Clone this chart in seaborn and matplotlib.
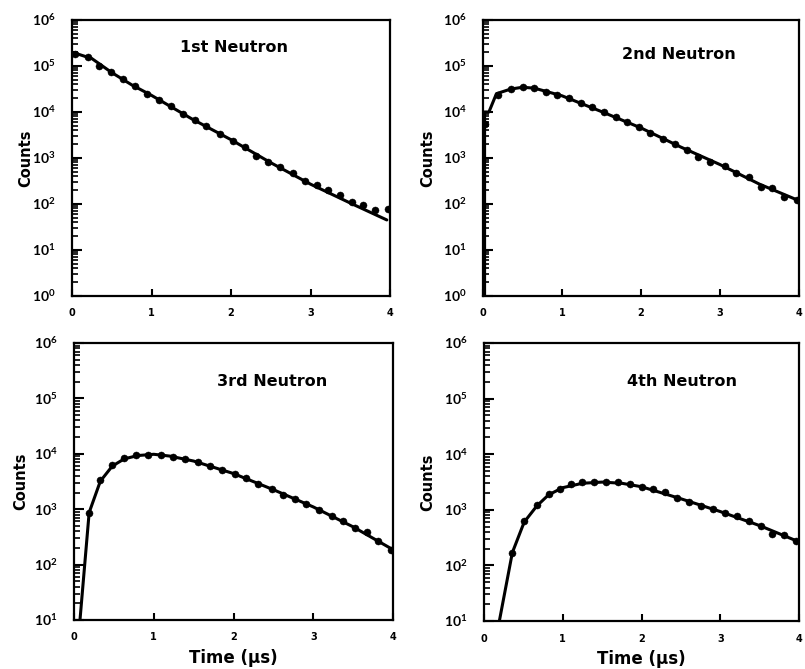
import numpy as np
import pandas as pd
import matplotlib
matplotlib.use("Agg")
import matplotlib.pyplot as plt
from matplotlib.ticker import FixedLocator, FuncFormatter, NullFormatter
import seaborn as sns

# ---- measured time spectra (time in microseconds, counts per bin) ----
t1 = [0.04, 0.20, 0.34, 0.49, 0.64, 0.79, 0.94, 1.09, 1.24, 1.39, 1.55, 1.69, 1.86, 2.03,
      2.18, 2.32, 2.47, 2.62, 2.78, 2.93, 3.08, 3.22, 3.37, 3.52, 3.66, 3.81, 3.97]
c1 = [1.86e5, 1.55e5, 1.0e5, 7.4e4, 5.1e4, 3.6e4, 2.5e4, 1.86e4, 1.32e4, 9.1e3, 6.8e3, 4.9e3,
      3.4e3, 2.4e3, 1.74e3, 1.12e3, 810, 650, 470, 310, 260, 200, 160, 112, 95, 74, 76]

t2 = [0.03, 0.19, 0.36, 0.50, 0.65, 0.80, 0.94, 1.09, 1.24, 1.38, 1.53, 1.68, 1.82, 1.97,
      2.12, 2.28, 2.43, 2.58, 2.72, 2.87, 3.06, 3.20, 3.37, 3.52, 3.66, 3.81, 3.98]
c2 = [5.5e3, 2.35e4, 3.1e4, 3.5e4, 3.25e4, 2.75e4, 2.35e4, 2.0e4, 1.58e4, 1.26e4, 9.8e3,
      7.6e3, 6.0e3, 4.7e3, 3.55e3, 2.6e3, 2.0e3, 1.48e3, 1.07e3, 830, 680, 480, 380, 240,
      220, 145, 123]

t3 = [0.19, 0.33, 0.48, 0.63, 0.78, 0.93, 1.09, 1.24, 1.39, 1.56, 1.70, 1.85, 2.02, 2.16,
      2.31, 2.48, 2.62, 2.77, 2.91, 3.07, 3.23, 3.37, 3.52, 3.67, 3.81, 3.98]
c3 = [870, 3.4e3, 6.3e3, 8.3e3, 9.5e3, 9.5e3, 9.5e3, 8.7e3, 7.9e3, 7.2e3, 6.0e3, 5.1e3,
      4.4e3, 3.6e3, 2.9e3, 2.3e3, 1.82e3, 1.51e3, 1.26e3, 980, 760, 600, 460, 380, 270, 186]

t4 = [0.36, 0.51, 0.67, 0.82, 0.96, 1.11, 1.25, 1.40, 1.55, 1.70, 1.86, 2.00, 2.15, 2.30,
      2.45, 2.60, 2.75, 2.91, 3.06, 3.21, 3.37, 3.52, 3.66, 3.81, 3.96]
c4 = [170, 630, 1.2e3, 1.95e3, 2.4e3, 2.9e3, 3.15e3, 3.15e3, 3.15e3, 3.1e3, 2.9e3, 2.6e3,
      2.35e3, 2.05e3, 1.66e3, 1.38e3, 1.17e3, 1.05e3, 890, 780, 630, 510, 360, 350, 275]

# ---- calculated curves ----
f1_t = [0.0, 0.25, 0.5, 0.75, 1.0, 1.5, 2.0, 2.5, 3.0, 3.5, 3.96]
f1_c = [2.0e5, 1.45e5, 7.2e4, 3.9e4, 2.3e4, 7.2e3, 2.5e3, 790, 270, 105, 45]

f2_t = [0.02, 0.02, 0.075, 0.17, 0.35, 0.5, 0.65, 0.8, 1.0, 1.5, 2.0, 2.5, 3.0, 3.5, 4.0]
f2_c = [1.0, 1.0e4, 1.0e4, 2.5e4, 3.15e4, 3.45e4, 3.3e4, 2.8e4, 2.25e4, 1.02e4, 4.5e3,
        1.74e3, 720, 270, 118]

f3_t = [0.075, 0.19, 0.33, 0.48, 0.63, 0.8, 1.0, 1.2, 1.5, 2.0, 2.5, 3.0, 3.5, 4.0]
f3_c = [10.0, 870, 3.2e3, 6.0e3, 8.1e3, 9.3e3, 9.8e3, 9.1e3, 7.4e3, 4.4e3, 2.25e3, 1.1e3,
        480, 186]

f4_t = [0.195, 0.36, 0.51, 0.67, 0.82, 1.0, 1.25, 1.5, 1.75, 2.0, 2.5, 3.0, 3.5, 4.0]
f4_c = [10.0, 170, 600, 1.17e3, 1.86e3, 2.5e3, 3.0e3, 3.15e3, 3.0e3, 2.6e3, 1.58e3, 930,
        520, 265]

titles = ["1st Neutron", "2nd Neutron", "3rd Neutron", "4th Neutron"]
x_ticks = [0, 1, 2, 3, 4]
y_decades = [(0, 6), (0, 6), (1, 6), (1, 6)]
title_pos = [(0.51, 0.90), (0.62, 0.875), (0.62, 0.86), (0.63, 0.86)]
ylabel_x = [-0.123, -0.15, -0.144, -0.154]

sns.set_style("white")
plt.rcParams["font.family"] = ["DejaVu Sans"]
plt.rcParams["font.weight"] = "bold"
plt.rcParams["text.color"] = "black"
plt.rcParams["axes.labelcolor"] = "black"
plt.rcParams["xtick.color"] = "black"
plt.rcParams["ytick.color"] = "black"
plt.rcParams["mathtext.fontset"] = "custom"
plt.rcParams["mathtext.rm"] = "Lato:bold"
plt.rcParams["mathtext.it"] = "Lato:bold"
plt.rcParams["mathtext.bf"] = "Lato:bold"

fig = plt.figure(figsize=(8.05, 6.69), dpi=100)
W, H = 805.0, 669.0
# panel boxes in pixels: left, top, right, bottom
boxes = [(72, 20, 390, 296), (483, 20, 799, 296),
         (74, 343, 393, 620), (484, 343, 799, 621)]

data = [(t1, c1, f1_t, f1_c), (t2, c2, f2_t, f2_c),
        (t3, c3, f3_t, f3_c), (t4, c4, f4_t, f4_c)]

def sup_fmt(v, pos):
    e = int(round(np.log10(v)))
    return r"$10^{%d}$" % e

for i, ((td, cd, tf, cf), (l, t, r, b)) in enumerate(zip(data, boxes)):
    ax = fig.add_axes([l / W, 1 - b / H, (r - l) / W, (b - t) / H])
    dfd = pd.DataFrame({"t": td, "c": cd})
    dff = pd.DataFrame({"t": tf, "c": cf})
    sns.lineplot(data=dff, x="t", y="c", ax=ax, color="black", linewidth=2.2,
                 sort=False, estimator=None)
    sns.scatterplot(data=dfd, x="t", y="c", ax=ax, color="black", s=26,
                    edgecolor="black", linewidth=0.3, zorder=3)
    lo, hi = y_decades[i]
    ax.set_yscale("log")
    ax.set_xlim(0, 4)
    ax.set_ylim(10.0 ** lo, 10.0 ** hi)
    ax.xaxis.set_major_locator(FixedLocator(x_ticks))
    majors = [10.0 ** k for k in range(lo, hi + 1)]
    minors = [m * 10.0 ** k for k in range(lo, hi) for m in range(2, 10)]
    ax.yaxis.set_major_locator(FixedLocator(majors))
    ax.yaxis.set_minor_locator(FixedLocator(minors))
    ax.yaxis.set_major_formatter(FuncFormatter(sup_fmt))
    ax.yaxis.set_minor_formatter(NullFormatter())
    ax.tick_params(axis="y", which="major", direction="in", length=7, width=1.5,
                   pad=12, labelsize=10, left=True, right=False)
    ax.tick_params(axis="y", which="minor", direction="in", length=4, width=1.2,
                   left=True, right=False)
    ax.tick_params(axis="x", which="major", direction="in", length=5, width=1.5,
                   pad=9, labelsize=7, bottom=True, top=False)
    for s in ax.spines.values():
        s.set_linewidth(1.6)
        s.set_color("black")
    ax.set_ylabel("Counts", fontsize=10.5, fontweight="bold")
    ax.yaxis.set_label_coords(ylabel_x[i], 0.5)
    if i >= 2:
        ax.set_xlabel("Time (µs)", fontsize=12, fontweight="bold", labelpad=5)
    else:
        ax.set_xlabel("")
        ax.xaxis.label.set_visible(False)
    ax.text(title_pos[i][0], title_pos[i][1], titles[i], transform=ax.transAxes,
            ha="center", va="center", fontsize=11.5, fontweight="bold")

fig.savefig("out.png", dpi=100, facecolor="white")
